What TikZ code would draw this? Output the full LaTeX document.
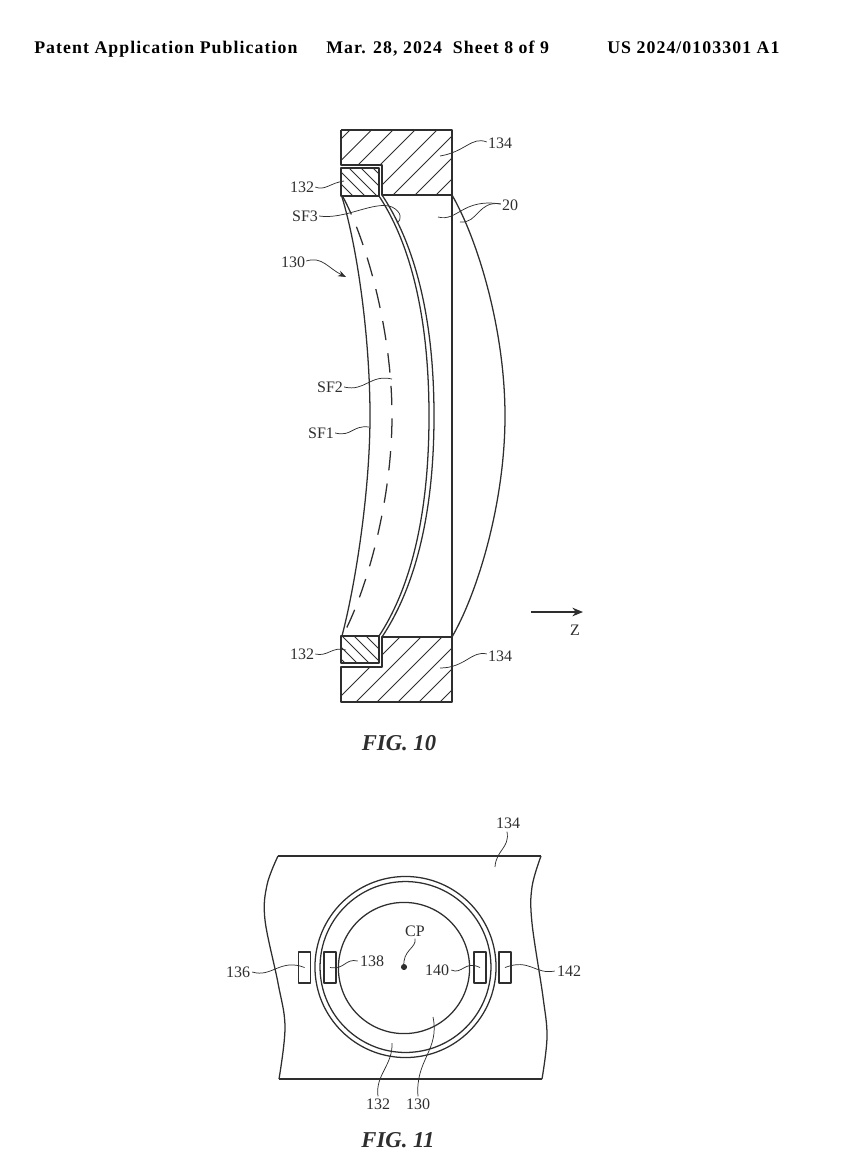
\documentclass[tikz,border=0pt]{standalone}
\usepackage{fontspec}
\setmainfont{Liberation Serif}
\newfontfamily\headfont[LetterSpace=6]{Liberation Serif}
\usetikzlibrary{arrows.meta}
\definecolor{ink}{gray}{0.18}
\tikzset{
  x=0.75pt,y=-0.75pt,
  ln/.style={draw=ink,line width=0.95pt},
  hatchline/.style={draw=ink,line width=0.75pt},
  leader/.style={draw=ink,line width=0.55pt},
  leadarrow/.style={leader,-{Stealth[length=6pt,width=4.5pt]}},
  lab/.style={text=ink,font=\fontsize{12pt}{13pt}\selectfont,inner sep=0pt},
  head/.style={text=black,font=\headfont\fontsize{13.35pt}{15pt}\selectfont\bfseries,inner sep=0pt,anchor=base west},
  figlab/.style={text=ink,font=\fontsize{17pt}{19pt}\selectfont\bfseries\itshape,inner sep=0pt},
  sensor/.style={draw=ink,line width=0.95pt,minimum width=9pt,minimum height=23.25pt,inner sep=0pt},
}
\begin{document}
\begin{tikzpicture}[line join=round]
\useasboundingbox (0,0) rectangle (841,1165);
% header
\node[head] (h1) at (34,53) {Patent Application Publication};
\node[head] (h2) at (326,53) {Mar. 28, 2024\ \ Sheet 8 of 9};
\node[head] (h3) at (607,53) {US 2024/0103301 A1};
% ---- FIG 10 hatching
\begin{scope}
\clip (341,130) -- (452,130) -- (452,195) -- (382,195) -- (382,165) -- (341,165) -- cycle;
\foreach \c in {480,501.5,523,545,567,588,610,631}{
  \draw[hatchline] (\c-120,120) -- (\c-205,205);
}
\end{scope}
\begin{scope}
\clip (341,168) rectangle (379,196);
\foreach \c in {133,145,157,169,181,193,205}{
  \draw[hatchline] (\c+160,160) -- (\c+200,200);
}
\end{scope}
\begin{scope}
\clip (341,702) -- (452,702) -- (452,637) -- (382,637) -- (382,667) -- (341,667) -- cycle;
\foreach \c in {1037,1058,1079,1100,1121,1142}{
  \draw[hatchline] (\c-630,630) -- (\c-710,710);
}
\end{scope}
\begin{scope}
\clip (341,636) rectangle (379,663);
\foreach \c in {-330,-318,-306,-294,-282,-270,-258}{
  \draw[hatchline] (\c+630,630) -- (\c+670,670);
}
\end{scope}
% ---- FIG 10 outlines
\draw[ln] (341,130) -- (452,130) -- (452,637) -- (382,637) -- (382,667) -- (341,667) -- (341,702) -- (452,702) -- (452,637);
\draw[ln] (341,130) -- (341,165) -- (382,165) -- (382,195) -- (452,195);
\draw[ln] (341,168) -- (379,168) -- (379,196) -- (341,196) -- cycle;
\draw[ln] (341,636) -- (379,636) -- (379,663) -- (341,663) -- cycle;
% SF1
\draw[ln] (342,197) .. controls (358,250) and (370,340) .. (370,416) .. controls (370,490) and (356,582) .. (342,636);
% SF2 dashed
\draw[ln,dash pattern=on 14.5pt off 10pt] (343,197) .. controls (366,240) and (392,330) .. (392,416) .. controls (392,502) and (366,592) .. (343,635);
% SF3 double
\draw[ln] (379,196) .. controls (408,240) and (429,310) .. (429,416) .. controls (429,522) and (408,592) .. (379,636);
\draw[ln] (382,195) .. controls (412,240) and (434,310) .. (434,416) .. controls (434,522) and (412,592) .. (382,637);
% lens 20 right face
\draw[ln] (452,195) .. controls (478,240) and (505,330) .. (505,416) .. controls (505,502) and (478,592) .. (452,637);
% ---- FIG 10 labels
\node[lab] (l134a) at (500,143) {134};
\coordinate (e134a) at (440,156);
\draw[leader] (l134a.west) ++(-1,-1) .. controls (472,136) and (465,152) .. (e134a);
\node[lab] (l132a) at (302,187) {132};
\coordinate (e132a) at (344,181);
\draw[leader] (l132a.east) ++(1,0) .. controls (325,191) and (330,183) .. (e132a);
\node[lab] (lsf3) at (305,216) {SF3};
\coordinate (esf3) at (397,223);
\draw[leader] (lsf3.east) ++(1,0) .. controls (345,220) and (375,200) .. (392,207) .. controls (402,212) and (402,220) .. (esf3);
\node[lab] (l20) at (510,205) {20};
\coordinate (e20a) at (438,217);
\coordinate (e20b) at (460,222);
\draw[leader] (l20.west) ++(-1,-1) .. controls (462,198) and (458,222) .. (e20a);
\draw[leader] (l20.west) ++(-1,-1) .. controls (478,200) and (478,224) .. (e20b);
\node[lab] (l130) at (293,262) {130};
\coordinate (e130) at (346,277);
\draw[leadarrow] (l130.east) ++(1,-1) .. controls (322,256) and (328,268) .. (e130);
\node[lab] (lsf2) at (330,387) {SF2};
\coordinate (esf2) at (392,379);
\draw[leader] (lsf2.east) ++(1,0) .. controls (365,392) and (370,374) .. (esf2);
\node[lab] (lsf1) at (321,433) {SF1};
\coordinate (esf1) at (369,427);
\draw[leader] (lsf1.east) ++(1,0) .. controls (352,437) and (352,425) .. (esf1);
\node[lab] (l132b) at (302,654) {132};
\coordinate (e132b) at (346,650);
\draw[leader] (l132b.east) ++(1,0) .. controls (328,657) and (332,646) .. (e132b);
\node[lab] (l134b) at (500,656) {134};
\coordinate (e134b) at (440,668);
\draw[leader] (l134b.west) ++(-1,-2) .. controls (472,650) and (465,668) .. (e134b);
% Z arrow
\node[lab] (lz) at (575,630) {Z};
\coordinate (za) at (531,612);
\coordinate (zb) at (583,612);
\draw[ink,line width=0.8pt,-{Stealth[length=8pt,width=6.5pt]}] (za) -- (zb);
\node[figlab] (f10) at (399,743) {FIG. 10};
% ---- FIG 11
\draw[ln] plot[smooth,tension=0.6] coordinates {(278,856) (267,885) (265,920) (278,983) (285,1027) (279,1079)};
\draw[ln] plot[smooth,tension=0.6] coordinates {(541,856) (532,887) (532,923) (543,997) (547,1037) (542,1079)};
\draw[ln] (278,856) -- (541,856);
\draw[ln] (279,1079) -- (542,1079);
\draw[ln] (405.5,967) circle[radius=67.9pt];
\draw[ln] (405.5,967) circle[radius=64.1pt];
\draw[ln] (404,968) circle[radius=49.2pt];
\node[sensor] (r136) at (304.6,967.5) {};
\node[sensor] (r138) at (330,967.5) {};
\node[sensor] (r140) at (480,967.5) {};
\node[sensor] (r142) at (505,967.5) {};
\coordinate (cpt) at (404,967);
\fill[ink] (cpt) circle[radius=2.3pt];
\node[lab] (lcp) at (415,931) {CP};
\draw[leader] (lcp.south) ++(0,2) .. controls (417,948) and (402,950) .. (cpt);
\node[lab] (l134c) at (508,823) {134};
\coordinate (e134c) at (495,867);
\draw[leader] (l134c.south) ++(-1,3) .. controls (510,848) and (496,850) .. (e134c);
\node[lab] (l136) at (238,972) {136};
\draw[leader] (l136.east) ++(2,0) .. controls (272,978) and (280,958) .. (r136.center);
\node[lab] (l138) at (372,961) {138};
\draw[leader] (l138.west) ++(-2,0) .. controls (345,958) and (345,970) .. (r138.center);
\node[lab] (l140) at (437,970) {140};
\draw[leader] (l140.east) ++(2,0) .. controls (462,975) and (465,960) .. (r140.center);
\node[lab] (l142) at (569,971) {142};
\draw[leader] (l142.west) ++(-2,0) .. controls (535,975) and (530,958) .. (r142.center);
\node[lab] (l132c) at (378,1104) {132};
\coordinate (e132c) at (392,1043);
\draw[leader] (l132c.north) ++(0,-2) .. controls (375,1075) and (393,1065) .. (e132c);
\node[lab] (l130c) at (418,1104) {130};
\coordinate (e130c) at (433,1017);
\draw[leader] (l130c.north) ++(0,-2) .. controls (415,1060) and (440,1050) .. (e130c);
\node[figlab] (f11) at (398,1140) {FIG. 11};
\end{tikzpicture}
\end{document}
